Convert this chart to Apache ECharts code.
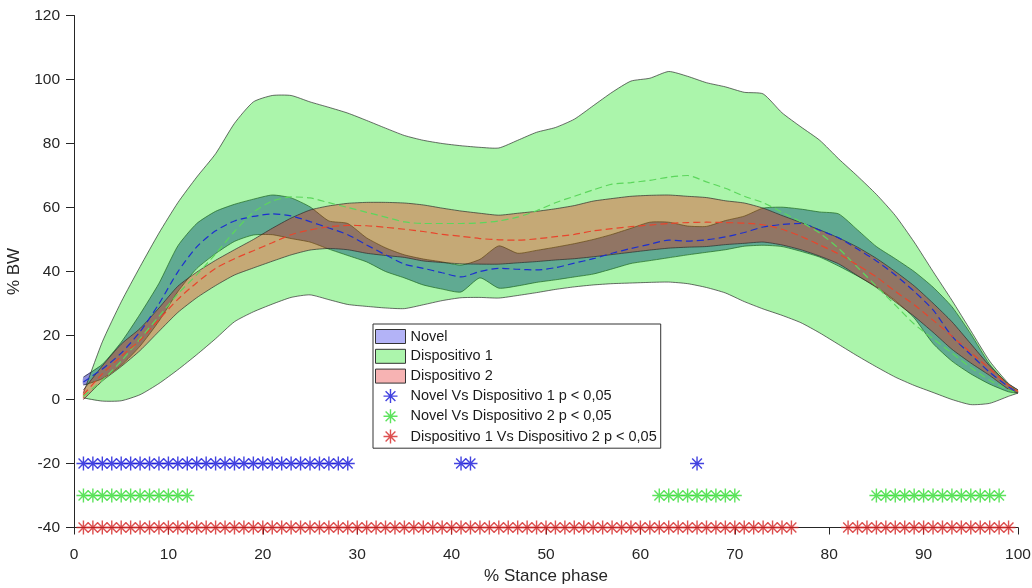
<!DOCTYPE html>
<html><head><meta charset="utf-8">
<script src="https://cdn.jsdelivr.net/npm/echarts@6/dist/echarts.min.js"></script>
<style>html,body{margin:0;padding:0;background:#fff}#c{width:1032px;height:588px}</style>
</head><body><div id="c"></div>
<script>
// % stance phase sample positions
const pct = [1,3,5,7,9,11,13,15,17,19, 21,23,25,27,29,31,33,35,37,39, 41,43,45,47,49,51,53,55,57,59, 61,63,65,67,69,71,73,75,77,79, 81,83,85,87,89,91,93,95,97,99, 100];

// Novel (mean, lower, upper)
const novelMean = [5.5,9.5,14.5,21.2,29.9,39.9,47.7,52.7,55.8,57.2, 58,57.4,55.6,53.6,51.5,48.3,45.2,42.3,41,39.6, 38.3,40,41,40.7,40.5,41.2,42.6,44,45.7,47.2, 48.5,49.8,49.5,49.9,50.8,52.2,53.9,54.7,55,52.9, 50.5,47,43.3,38.9,33.8,28,19.8,14,8.5,4, 2];
const novelLo = [4.5,6.5,10.7,16.7,24.5,33.7,40.9,45.6,49.4,51.4, 51.5,50.3,49.2,47,45,43,40,38,35.8,34.5, 33.6,38,34.8,35.5,36.6,37.4,38.3,39.2,40.8,42.5, 43.4,44.3,45.2,46,46.8,47.9,48.2,47.8,46.3,44.5, 41.7,38.6,35.2,30.9,25.5,17.5,12,8,4.8,2.4, 2];
const novelHi = [7,11,17.9,26.7,36.3,48,55,58.8,61,62.6, 63.9,63,60.2,55.8,55,50.5,47.4,45.2,43.9,43, 42,43.8,48,45.7,46.6,47.6,48.7,50,51.6,53.5, 55.4,55.4,54.2,54.1,55.9,57.3,59.8,60.1,59.5,58.6, 58,53,47.8,44,40,35.1,29,20.5,11,4.5, 2.5];

// Dispositivo 1 (mean, lower, upper)
const d1Mean = [1,6,12,19,26,33,39,45.5,52.5,58.5, 62,63.3,63,61.5,60,58.5,57,55.5,55,55, 55,55.2,55.8,57,59,61.5,63.5,65.5,67.3,67.8, 68.5,69.5,70,68,66,63.5,61.5,58.5,55.5,52, 47.2,41.3,35.4,29.5,23.6,19,14.5,10,6,3, 2];
const d1Lo = [0.5,-0.5,-0.4,1.5,5,9.3,14,19,24.3,27.4, 29.8,31.9,32.7,31.2,29.7,29.1,28.6,28.4,29.6,30.9, 31.8,31.9,31.7,32.5,33.4,34.4,35.2,35.8,36.2,36.4, 36.6,36.7,36.2,35,33.3,30.6,28.3,26.3,24,20.8, 17.2,13.6,10.2,7,4.4,2.2,0,-1.6,-1.2,1, 2];
const d1Hi = [2,18,30.5,41.5,52,61.5,69.5,76.8,86.3,93, 95,95,93,91.3,89.5,87.2,84.8,82.5,81,80, 79.3,78.8,78.6,81,83.5,85,87.6,91.8,96,99.5, 100.4,102.5,101,99,97.7,96,95.5,89.6,85.2,81, 75.2,69.8,64.1,57.5,49.2,40,31,21.5,12,5, 3];

// Dispositivo 2 (mean, lower, upper)
const d2Mean = [1.5,8,13.5,18.5,25,31.3,36.5,41,44,46.5, 49,51.5,53,54,54.4,54.3,53.8,53.2,52.5,51.6, 51,50.3,49.9,49.8,50.2,50.9,51.6,52.7,53.4,54, 54.5,55,55.3,55.4,55.3,55.1,54.6,53.2,51,48.3, 45.5,42,38.3,33.8,29.6,24.8,19.8,14.7,9.6,4.5, 2.5];
const d2Lo = [0,5.8,10.3,15.3,21.3,27.2,31.8,35.6,38.9,41.1, 43.2,45.2,46.7,47.2,46.8,45.7,45,44.4,43.3,42.8, 42.4,42.3,42.3,42.7,43.1,43.6,44,44.6,45.3,46, 46.7,47.3,47.6,47.8,48.4,48.8,49.2,48.3,46.8,44.8, 42.4,38.7,35,30.5,26,21,15.7,11.4,7.5,3.2, 2];
const d2Hi = [3,10.5,17.3,22.2,28.6,35.4,39.8,43.5,46.8,50, 53.5,56.7,59.2,60.5,61.3,61.6,61.6,61.4,60.8,59.8, 58.9,58.2,57.6,58.2,58.8,59.6,60.6,62,62.8,63.5, 63.8,63.9,63.5,63.1,62.1,61.4,59.8,57.5,55.3,53, 50.5,47.6,44.1,40,35.5,30.1,24.3,17.4,10.5,4.8, 3];

// significance markers (x positions) and their row levels
const sigNovelD1 = [1,2,3,4,5,6,7,8,9,10,11,12,13,14,15,16,17,18,19,20,21,22,23,24,25,26,27,28,29,41,42,66];
const sigNovelD2 = [1,2,3,4,5,6,7,8,9,10,11,12,62,63,64,65,66,67,68,69,70,85,86,87,88,89,90,91,92,93,94,95,96,97,98];
const sigD1D2 = [1,2,3,4,5,6,7,8,9,10,11,12,13,14,15,16,17,18,19,20,21,22,23,24,25,26,27,28,29,30,31,32,33,34,35,36,37,38,39,40,41,42,43,44,45,46,47,48,49,50,51,52,53,54,55,56,57,58,59,60,61,62,63,64,65,66,67,68,69,70,71,72,73,74,75,76,82,83,84,85,86,87,88,89,90,91,92,93,94,95,96,97,98,99];
const rowLevels = [-20, -30, -40];

const names = ['Novel', 'Dispositivo 1', 'Dispositivo 2',
  'Novel Vs Dispositivo 1 p < 0,05', 'Novel Vs Dispositivo 2 p < 0,05', 'Dispositivo 1 Vs Dispositivo 2 p < 0,05'];

const FONT = 'Liberation Sans, Arial, Helvetica, sans-serif';
const EDGE = 'rgba(40,40,40,0.85)';
const STAR = 'path://M10,0L10,20M0,10L20,10M3,3L17,17M3,17L17,3';
const SMOOTH = 0.2;
const C_BLUE = '#1414d8', C_GREEN = '#34dc34', C_RED = '#d42424';

// band drawn as a polygon between lower and upper curves, positioned with api.coord
function band(name, lo, hi, fill) {
  return {
    type: 'custom', name: name, silent: true, clip: false,
    data: pct.map((x, i) => [x, lo[i], hi[i]]),
    encode: { x: 0, y: [1, 2] },
    renderItem: function (params, api) {
      if (params.dataIndex !== 0) return null;
      const up = pct.map((x, i) => api.coord([x, hi[i]]));
      const dn = pct.map((x, i) => api.coord([x, lo[i]]));
      const poly = up.concat(dn.slice().reverse());
      return {
        type: 'group',
        children: [
          { type: 'polygon', shape: { points: poly, smooth: SMOOTH }, style: { fill: fill, stroke: null } },
          { type: 'polyline', shape: { points: up, smooth: SMOOTH }, style: { fill: null, stroke: EDGE, lineWidth: 0.8 } },
          { type: 'polyline', shape: { points: dn, smooth: SMOOTH }, style: { fill: null, stroke: EDGE, lineWidth: 0.8 } }
        ]
      };
    }
  };
}
function meanLine(name, vals, color) {
  return { type: 'line', name: name + ' mean', silent: true, data: pct.map((x, i) => [x, vals[i]]),
    symbol: 'none', smooth: 0.25, lineStyle: { color: color, width: 1.2, type: [7, 4] } };
}
function stars(name, xs, level, color) {
  return { type: 'scatter', name: name, clip: false, silent: true, symbol: STAR, symbolSize: 14,
    data: xs.map(x => [x, level]),
    itemStyle: { color: 'rgba(0,0,0,0)', borderColor: color, borderWidth: 1.4 }, z: 5 };
}

const series = [
  band(names[0], novelLo, novelHi, 'rgba(31,31,181,0.5)'),
  meanLine(names[0], novelMean, '#1c2fd0'),
  band(names[1], d1Lo, d1Hi, 'rgba(0,224,0,0.33)'),
  meanLine(names[1], d1Mean, '#5cd65c'),
  band(names[2], d2Lo, d2Hi, 'rgba(255,0,0,0.31)'),
  meanLine(names[2], d2Mean, '#e8452c'),
  stars(names[3], sigNovelD1, rowLevels[0], C_BLUE),
  stars(names[4], sigNovelD2, rowLevels[1], C_GREEN),
  stars(names[5], sigD1D2, rowLevels[2], C_RED)
];

const legendIcons = [
  { icon: 'rect', itemStyle: { color: '#b3b3f7', borderColor: '#333', borderWidth: 1 } },
  { icon: 'rect', itemStyle: { color: '#acf5ac', borderColor: '#333', borderWidth: 1 } },
  { icon: 'rect', itemStyle: { color: '#f7b3b3', borderColor: '#333', borderWidth: 1 } },
  { icon: STAR, itemStyle: { color: 'rgba(0,0,0,0)', borderColor: C_BLUE, borderWidth: 1.4 } },
  { icon: STAR, itemStyle: { color: 'rgba(0,0,0,0)', borderColor: C_GREEN, borderWidth: 1.4 } },
  { icon: STAR, itemStyle: { color: 'rgba(0,0,0,0)', borderColor: C_RED, borderWidth: 1.4 } }
];

const chart = echarts.init(document.getElementById('c'), null, { renderer: 'canvas' });
chart.setOption({
  animation: false,
  backgroundColor: '#fff',
  textStyle: { fontFamily: FONT },
  grid: { left: 74, right: 14, top: 15.5, bottom: 60.5, containLabel: false, outerBoundsMode: 'none' },
  xAxis: {
    type: 'value', min: 0, max: 100, interval: 10,
    name: '% Stance phase', nameLocation: 'middle', nameGap: 40,
    nameTextStyle: { fontSize: 17, color: '#262626', fontFamily: FONT },
    axisLine: { show: true, onZero: false, lineStyle: { color: '#262626', width: 1 } },
    axisTick: { show: true, inside: false, length: 7, lineStyle: { color: '#262626' } },
    axisLabel: { fontSize: 15.5, color: '#262626', margin: 19, fontFamily: FONT },
    splitLine: { show: false }
  },
  yAxis: {
    type: 'value', min: -40, max: 120, interval: 20,
    name: '% BW', nameLocation: 'middle', nameGap: 46, nameRotate: 90,
    nameTextStyle: { fontSize: 17, color: '#262626', fontFamily: FONT },
    axisLine: { show: true, onZero: false, lineStyle: { color: '#262626', width: 1 } },
    axisTick: { show: true, inside: false, length: 8, lineStyle: { color: '#262626' } },
    axisLabel: { fontSize: 15.5, color: '#262626', margin: 14, fontFamily: FONT },
    splitLine: { show: false }
  },
  legend: {
    orient: 'vertical', left: 373, top: 324,
    itemWidth: 30, itemHeight: 14, itemGap: 4.8,
    padding: [5, 4, 4, 2],
    borderColor: '#333', borderWidth: 1, backgroundColor: '#fff',
    selectedMode: false,
    textStyle: { fontSize: 14.5, color: '#1a1a1a', fontFamily: FONT },
    data: names.map((n, i) => Object.assign({ name: n }, legendIcons[i]))
  },
  series: series
});
</script></body></html>
